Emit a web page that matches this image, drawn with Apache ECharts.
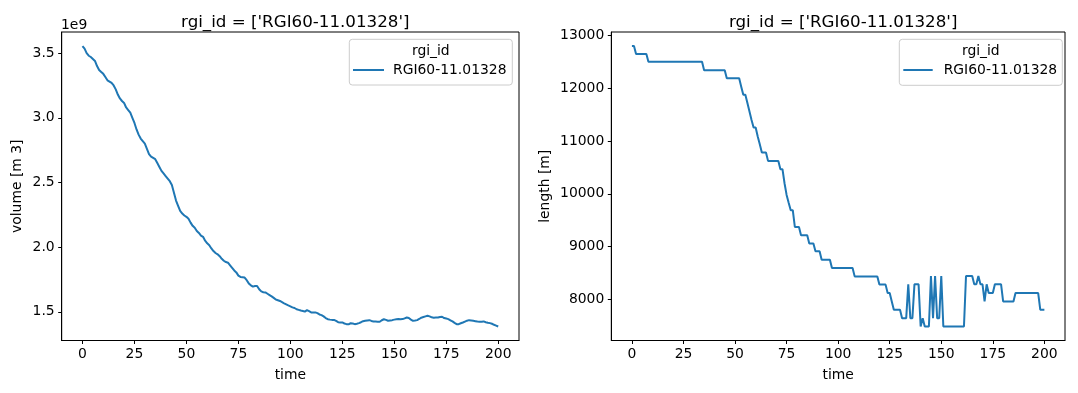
<!DOCTYPE html>
<html>
<head>
<meta charset="utf-8">
<script src="https://cdn.jsdelivr.net/npm/echarts@6/dist/echarts.min.js"></script>
<style>
html,body{margin:0;padding:0;background:#fff;}
#c{width:1078px;height:393px;}
</style>
</head>
<body>
<div id="c"></div>
<script>
// ---- data ----
const glacierId = 'RGI60-11.01328';
const titleText = "rgi_id = ['RGI60-11.01328']";
// time in years 0..200
const time = Array.from({length: 201}, (_, i) => i);
// volume, in units of 1e9 m3
const volume = [
3.555,3.535,3.50,3.48,3.47,3.455,3.44,3.40,3.37,3.355,
3.34,3.315,3.29,3.28,3.27,3.25,3.22,3.18,3.15,3.13,
3.115,3.08,3.06,3.04,3.00,2.96,2.91,2.87,2.84,2.82,
2.80,2.76,2.72,2.70,2.69,2.68,2.65,2.62,2.59,2.57,
2.55,2.53,2.51,2.48,2.42,2.36,2.32,2.28,2.26,2.245,
2.235,2.22,2.19,2.165,2.15,2.125,2.11,2.09,2.08,2.05,
2.03,2.015,1.99,1.97,1.955,1.945,1.93,1.91,1.895,1.885,
1.88,1.86,1.84,1.82,1.805,1.78,1.77,1.768,1.765,1.745,
1.72,1.705,1.695,1.70,1.70,1.675,1.658,1.652,1.65,1.64,
1.63,1.62,1.608,1.595,1.59,1.584,1.575,1.566,1.558,1.55,
1.543,1.535,1.53,1.52,1.515,1.51,1.507,1.502,1.513,1.505,
1.496,1.495,1.496,1.49,1.48,1.475,1.465,1.452,1.443,1.44,
1.438,1.438,1.43,1.42,1.418,1.418,1.41,1.405,1.404,1.412,
1.41,1.405,1.408,1.413,1.42,1.428,1.431,1.434,1.436,1.43,
1.426,1.425,1.424,1.423,1.435,1.443,1.438,1.431,1.434,1.436,
1.44,1.443,1.445,1.443,1.444,1.45,1.456,1.452,1.44,1.431,
1.433,1.436,1.445,1.455,1.46,1.465,1.47,1.465,1.458,1.455,
1.457,1.456,1.46,1.462,1.452,1.448,1.444,1.435,1.426,1.415,
1.405,1.405,1.412,1.418,1.425,1.432,1.436,1.434,1.431,1.428,
1.425,1.423,1.424,1.426,1.42,1.416,1.413,1.408,1.40,1.394,
1.387
];
// length in m
const length = [
12800,12800,12650,12650,12650,12650,12650,12650,12500,12500,
12500,12500,12500,12500,12500,12500,12500,12500,12500,12500,
12500,12500,12500,12500,12500,12500,12500,12500,12500,12500,
12500,12500,12500,12500,12500,12340,12340,12340,12340,12340,
12340,12340,12340,12340,12340,12340,12190,12190,12190,12190,
12190,12190,12190,12030,11877,11877,11719,11560,11400,11258,
11258,11087,10940,10784,10784,10784,10624,10624,10624,10624,
10624,10624,10467,10467,10200,9980,9830,9690,9690,9372,
9372,9372,9214,9214,9214,9214,9057,9057,9057,8911,
8911,8911,8753,8753,8753,8753,8753,8594,8594,8594,
8594,8594,8594,8594,8594,8594,8594,8594,8436,8436,
8436,8436,8436,8436,8436,8436,8436,8436,8436,8436,
8280,8280,8280,8280,8120,8120,7960,7804,7804,7804,
7804,7645,7645,7645,8285,7645,7645,8285,8285,8285,
7487,7645,7487,7487,7487,8442,7645,8442,7645,7645,
8442,7487,7487,7487,7487,7487,7487,7487,7487,7487,
7487,7487,8442,8442,8442,8442,8285,8285,8442,8285,
8285,7962,8285,8120,8120,8120,8285,8285,8285,8285,
7962,7962,7962,7962,7962,7962,8120,8120,8120,8120,
8120,8120,8120,8120,8120,8120,8120,8120,7804,7804,
7804
];
const xTicks = [0,25,50,75,100,125,150,175,200];
const volTicks = [1.5,2.0,2.5,3.0,3.5];
const lenTicks = [8000,9000,10000,11000,12000,13000];

// ---- chart ----
const FONT = 'DejaVu Sans';
const FS = 13.9;
const chart = echarts.init(document.getElementById('c'), null, {renderer: 'canvas'});

function pad(arr){ const mn=Math.min(...arr), mx=Math.max(...arr), r=(mx-mn)*0.05; return [mn-r, mx+r]; }
const volR = pad(volume), lenR = pad(length);

const G = [
  {left: 61.7, top: 32, width: 457.3, height: 308.5},
  {left: 611.3, top: 32, width: 453.7, height: 308.5}
];

function xAxis(i){
  return {
    type: 'value', gridIndex: i, min: -10, max: 210,
    name: 'time', nameLocation: 'middle', nameGap: 28,
    nameTextStyle: {fontFamily: FONT, fontSize: FS, color: '#000'},
    axisLine: {show: true, onZero: false, lineStyle: {color: '#000', width: 1}},
    axisTick: {show: true, length: 3.5, lineStyle: {color: '#000', width: 1}, customValues: xTicks},
    axisLabel: {show: true, margin: 7, fontFamily: FONT, fontSize: FS, color: '#000', customValues: xTicks,
      formatter: v => String(v)},
    splitLine: {show: false}
  };
}
function yAxis(i, name, rng, ticks, gap, fmt){
  return {
    type: 'value', gridIndex: i, min: rng[0], max: rng[1],
    name: name, nameLocation: 'middle', nameGap: gap,
    nameTextStyle: {fontFamily: FONT, fontSize: FS, color: '#000'},
    axisLine: {show: true, onZero: false, lineStyle: {color: '#000', width: 1}},
    axisTick: {show: true, length: 3.5, lineStyle: {color: '#000', width: 1}, customValues: ticks},
    axisLabel: {show: true, margin: 7, fontFamily: FONT, fontSize: FS, color: '#000', customValues: ticks,
      formatter: fmt},
    splitLine: {show: false}
  };
}

const legendBoxes = [
  {x: 349.3, y: 39.3, w: 163, h: 45.7},
  {x: 899.3, y: 39.3, w: 163, h: 46}
];

const option = {
  animation: false,
  backgroundColor: '#fff',
  textStyle: {fontFamily: FONT},
  title: [
    {text: titleText, left: 290.3, top: 9, textAlign: 'center',
     textStyle: {fontFamily: FONT, fontSize: 16.7, fontWeight: 'normal', color: '#000'}},
    {text: titleText, left: 838.2, top: 9, textAlign: 'center',
     textStyle: {fontFamily: FONT, fontSize: 16.7, fontWeight: 'normal', color: '#000'}}
  ],
  grid: G.map(g => Object.assign({show: true, borderColor: '#000', borderWidth: 1, backgroundColor: '#fff', containLabel: false}, g)),
  xAxis: [xAxis(0), xAxis(1)],
  yAxis: [
    yAxis(0, 'volume [m 3]', volR, volTicks, 37, v => v.toFixed(1)),
    yAxis(1, 'length [m]', lenR, lenTicks, 59, v => String(v))
  ],
  legend: [
    {data: [glacierId], left: 353, top: 63, z: 100, itemWidth: 31, itemHeight: 2, icon: 'rect', padding: 0,
     textStyle: {fontFamily: FONT, fontSize: FS, color: '#000', padding: [0,0,0,4]}, selectedMode: false},
    {data: [glacierId], left: 903.3, top: 63, z: 100, itemWidth: 29.4, itemHeight: 2, icon: 'rect', padding: 0,
     textStyle: {fontFamily: FONT, fontSize: FS, color: '#000', padding: [0,0,0,6]}, selectedMode: false}
  ],
  graphic: [
    ...legendBoxes.map(b => ({type: 'rect', z: 50, shape: {x: b.x, y: b.y, width: b.w, height: b.h, r: 3},
      style: {fill: 'rgba(255,255,255,0.8)', stroke: '#cccccc', lineWidth: 1}})),
    ...legendBoxes.map(b => ({type: 'text', z: 51, x: b.x + b.w/2, y: 51.7,
      style: {text: 'rgi_id', font: FS + 'px "DejaVu Sans"', fill: '#000', align: 'center', verticalAlign: 'middle'}})),
    {type: 'text', z: 51, x: 61, y: 25, style: {text: '1e9', font: FS + 'px "DejaVu Sans"', fill: '#000', align: 'left', verticalAlign: 'middle'}}
  ],
  series: [
    {type: 'line', name: glacierId, xAxisIndex: 0, yAxisIndex: 0, showSymbol: false, symbol: 'none',
     data: time.map((t, i) => [t, volume[i]]), lineStyle: {color: '#1f77b4', width: 2}, itemStyle: {color: '#1f77b4'}, z: 10},
    {type: 'line', name: glacierId, xAxisIndex: 1, yAxisIndex: 1, showSymbol: false, symbol: 'none',
     data: time.map((t, i) => [t, length[i]]), lineStyle: {color: '#1f77b4', width: 2}, itemStyle: {color: '#1f77b4'}, z: 10}
  ]
};
chart.setOption(option);
</script>
</body>
</html>
